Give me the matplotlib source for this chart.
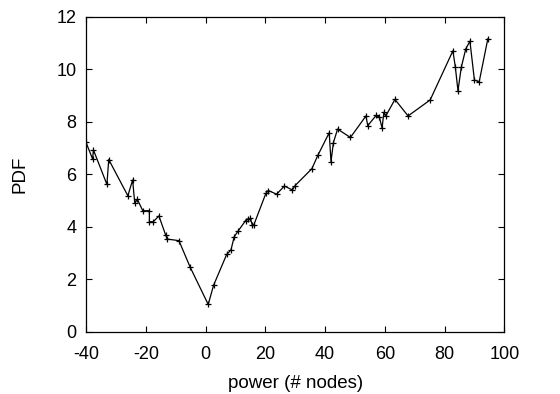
import numpy as np
import matplotlib
matplotlib.use('Agg')
import matplotlib.pyplot as plt

plt.rcParams['font.family'] = ['Liberation Sans', 'DejaVu Sans']
plt.rcParams['axes.unicode_minus'] = False

# power (# nodes) vs PDF
power = [-40.0, -37.8, -37.5, -33.0, -32.4, -26.0, -24.4, -23.7, -22.8, -21.0,
         -18.8, -18.8, -17.5, -15.6, -13.3, -12.8, -8.9, -5.1, 0.9, 2.7,
         7.1, 8.5, 9.6, 10.8, 13.4, 14.3, 15.0, 15.7, 16.2, 20.2,
         21.0, 23.8, 26.4, 29.1, 30.0, 35.6, 37.6, 41.4, 42.0, 42.8,
         44.2, 48.5, 53.7, 54.3, 57.1, 58.2, 59.1, 59.7, 60.4, 63.4,
         67.8, 75.2, 82.8, 83.6, 84.5, 85.6, 87.1, 88.5, 90.0, 91.6,
         94.5]
pdf = [7.21, 6.58, 6.92, 5.61, 6.56, 5.18, 5.78, 4.91, 5.04, 4.61,
       4.61, 4.19, 4.19, 4.41, 3.67, 3.53, 3.47, 2.45, 1.04, 1.77,
       2.95, 3.11, 3.62, 3.82, 4.23, 4.29, 4.32, 4.05, 4.08, 5.27,
       5.38, 5.24, 5.55, 5.40, 5.57, 6.21, 6.72, 7.58, 6.48, 7.20,
       7.72, 7.40, 8.22, 7.85, 8.24, 8.17, 7.76, 8.36, 8.23, 8.85,
       8.22, 8.83, 10.70, 10.10, 9.18, 10.07, 10.77, 11.07, 9.59, 9.52,
       11.16]

fig = plt.figure(figsize=(5.6, 3.94), dpi=100)
ax = fig.add_axes([0.1536, 0.158, 0.7469, 0.7996])

ax.plot(power, pdf, color='black', linewidth=0.9, marker='+',
        markersize=5, markeredgewidth=0.9)

ax.set_xlim(-40, 100)
ax.set_ylim(0, 12)
ax.set_xticks(np.arange(-40, 101, 20))
ax.set_yticks(np.arange(0, 13, 2))
ax.tick_params(direction='in', top=True, right=True, length=4, width=0.8,
               labelsize=13, pad=7)
ax.tick_params(axis='x', pad=10)
for s in ax.spines.values():
    s.set_linewidth(0.9)

ax.set_xlabel('power (# nodes)', fontsize=13.5, labelpad=9)
ax.set_ylabel('PDF', fontsize=13.5, labelpad=20)

fig.savefig('out.png', dpi=100)
